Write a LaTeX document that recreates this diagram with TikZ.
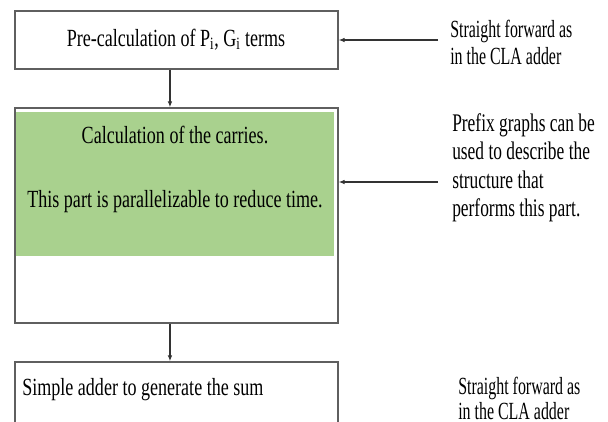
\documentclass[tikz,border=0pt]{standalone}
\usepackage{fontspec}
\setmainfont[FakeStretch=0.732]{Liberation Serif}
\newfontfamily\notefont[FakeStretch=0.646]{Liberation Serif}
\newfontfamily\prefixfont[FakeStretch=0.687]{Liberation Serif}
\usetikzlibrary{arrows.meta}

\definecolor{boxgray}{HTML}{5F5F5F}
\definecolor{arrowgray}{HTML}{333333}
\definecolor{carrygreen}{HTML}{A9D18E}

\begin{document}
\begin{tikzpicture}[
    x=0.75pt, y=-0.75pt,
    block/.style={draw=boxgray, line width=1.1pt, minimum width=242.25pt, inner sep=0pt},
    greenpart/.style={fill=carrygreen, minimum width=238.5pt, minimum height=108pt, inner sep=0pt},
    arrow/.style={-{Latex[length=4.5pt,width=3.5pt]}, draw=arrowgray, line width=0.8pt},
    boxtext/.style={inner sep=0pt, font=\fontsize{18.5}{22}\selectfont},
    note/.style={align=left, anchor=north west, inner sep=0pt, font=\notefont\fontsize{18.5}{20.5}\selectfont}
]
\useasboundingbox (0,0) rectangle (608,422);
\clip (0,0) rectangle (608,422);

% Pre-calculation
\node[block, minimum height=43.5pt] (pre) at (176.5,40) {};
\node[boxtext, anchor=base] (pretext) at (176,46) {Pre-calculation of P\textsubscript{i}, G\textsubscript{i} terms};

% Carries
\node[block, minimum height=161.25pt] (carry) at (176.5,215.5) {};
\node[greenpart] (par) at (175,184) {};
\node[boxtext, anchor=base] (carrytext) at (175,143) {Calculation of the carries.};
\node[boxtext, anchor=base] (partext) at (175,207) {This part is parallelizable to reduce time.};

% Sum
\node[block, minimum height=66pt] (sum) at (176.5,406) {};
\node[boxtext, anchor=base west] (sumtext) at (22,395) {Simple adder to generate the sum};

% Notes
\node[note] (note1) at (450,20) {Straight forward as\\in the CLA adder};
\node[note, font=\prefixfont\fontsize{19}{21.2}\selectfont] (note2) at (452,113.5) {Prefix graphs can be\\used to describe the\\structure that\\performs this part.};
\node[note, font=\notefont\fontsize{18.5}{19}\selectfont] (note3) at (458,377) {Straight forward as\\in the CLA adder};

\coordinate (from1) at (438,40);
\coordinate (from2) at (438,182);

% Connections
\draw[arrow] ([xshift=-4.9pt]pre.south) -- ([xshift=-4.9pt]carry.north);
\draw[arrow] ([xshift=-4.9pt]carry.south) -- ([xshift=-4.9pt]sum.north);
\draw[arrow] (from1) -- (from1 -| pre.east);
\draw[arrow] (from2) -- (from2 -| carry.east);

\end{tikzpicture}
\end{document}
